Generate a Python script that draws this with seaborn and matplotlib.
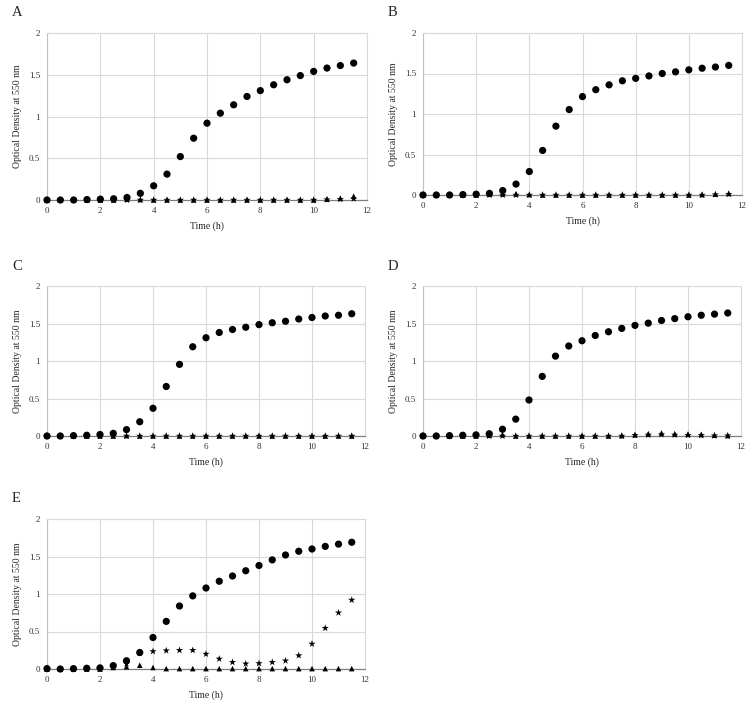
import numpy as np
import pandas as pd
import seaborn as sns
import matplotlib.pyplot as plt
from matplotlib.ticker import FuncFormatter

# sampling times (h)
time_h = [0, 0.5, 1, 1.5, 2, 2.5, 3, 3.5, 4, 4.5, 5, 5.5,
          6, 6.5, 7, 7.5, 8, 8.5, 9, 9.5, 10, 10.5, 11, 11.5]

# panel A
a_circle = [0.0, 0.0, 0.0, 0.005, 0.01, 0.015, 0.03, 0.08, 0.17, 0.31, 0.52, 0.74,
            0.92, 1.04, 1.14, 1.24, 1.31, 1.38, 1.44, 1.49, 1.54, 1.58, 1.61, 1.64]
a_triangle = [0, 0, 0, 0, 0, 0, 0.01, 0.005, 0, 0, 0, 0,
              0, 0, 0, 0, 0, 0, 0, 0, 0, 0.01, 0.02, 0.045]
a_star = [0, 0, 0, 0, 0, 0, 0, 0, 0, 0, 0, 0,
          0, 0, 0, 0, 0, 0, 0, 0, 0, 0.005, 0.01, 0.015]

# panel B
b_circle = [0.0, 0.0, 0.0, 0.005, 0.01, 0.02, 0.055, 0.135, 0.29, 0.55, 0.85, 1.055,
            1.215, 1.30, 1.36, 1.41, 1.44, 1.47, 1.50, 1.52, 1.545, 1.565, 1.58, 1.60]
b_triangle = [0, 0, 0, 0, 0, 0.01, 0.015, 0.015, 0.005, 0, 0, 0,
              0, 0, 0, 0, 0, 0, 0, 0, 0, 0.005, 0.01, 0.02]
b_star = [0, 0, 0, 0, 0, 0, 0, 0, 0, 0, 0, 0,
          0, 0, 0, 0, 0, 0, 0, 0, 0, 0, 0.005, 0.01]

# panel C
c_circle = [0.0, 0.0, 0.005, 0.01, 0.02, 0.035, 0.085, 0.19, 0.37, 0.66, 0.955, 1.19,
            1.31, 1.38, 1.42, 1.45, 1.485, 1.51, 1.53, 1.56, 1.58, 1.60, 1.61, 1.63]
c_triangle = [0, 0, 0, 0, 0, 0, 0.005, 0, 0, 0, 0, 0,
              0, 0, 0, 0, 0, 0, 0, 0, 0, 0, 0, 0]
c_star = [0, 0, 0, 0, 0, 0, 0, 0, 0, 0, 0, 0,
          0, 0, 0, 0, 0, 0, 0, 0, 0, 0, 0, 0]

# panel D
d_circle = [0.0, 0.0, 0.005, 0.01, 0.015, 0.03, 0.09, 0.225, 0.48, 0.795, 1.065, 1.20,
            1.27, 1.34, 1.39, 1.435, 1.475, 1.505, 1.54, 1.565, 1.59, 1.61, 1.625, 1.64]
d_triangle = [0, 0, 0, 0, 0, 0.01, 0.02, 0, 0, 0, 0, 0,
              0, 0, 0, 0.005, 0.015, 0.03, 0.04, 0.03, 0.025, 0.02, 0.01, 0.005]
d_star = [0, 0, 0, 0, 0, 0, 0, 0, 0, 0, 0, 0,
          0, 0, 0, 0, 0.01, 0.015, 0.02, 0.015, 0.01, 0.01, 0.005, 0.005]

# panel E
e_circle = [0.005, 0.0, 0.005, 0.01, 0.015, 0.045, 0.11, 0.22, 0.42, 0.635, 0.84, 0.975,
            1.08, 1.17, 1.24, 1.31, 1.38, 1.455, 1.52, 1.57, 1.60, 1.635, 1.665, 1.69]
e_triangle = [0, 0, 0, 0, 0, 0.02, 0.03, 0.05, 0.02, 0.005, 0.005, 0.005,
              0.005, 0.005, 0.005, 0.005, 0.005, 0.005, 0.005, 0.005, 0.005, 0.005, 0.005, 0.005]
e_star = [0, 0, 0, 0, 0, 0.03, 0.07, 0.21, 0.235, 0.245, 0.25, 0.25,
          0.20, 0.135, 0.09, 0.07, 0.075, 0.09, 0.11, 0.18, 0.335, 0.545, 0.75, 0.92]

panels = {
    'A': (a_circle, a_triangle, a_star),
    'B': (b_circle, b_triangle, b_star),
    'C': (c_circle, c_triangle, c_star),
    'D': (d_circle, d_triangle, d_star),
    'E': (e_circle, e_triangle, e_star),
}

# axes boxes in pixels: left, top, right, bottom
boxes = {
    'A': (47, 33, 367, 200),
    'B': (423, 33, 742, 195),
    'C': (47, 286, 365, 436),
    'D': (423, 286, 741, 436),
    'E': (47, 519, 365, 669),
}

W, H = 754, 706


def main():
    sns.set_style('whitegrid')
    plt.rcParams['font.family'] = ['Liberation Serif', 'DejaVu Serif']

    fig = plt.figure(figsize=(W / 100, H / 100), dpi=100)

    for name, (circ, tri, star) in panels.items():
        l, t, r, b = boxes[name]
        ax = fig.add_axes([l / W, (H - b) / H, (r - l) / W, (b - t) / H])

        df = pd.DataFrame({'Time': time_h, 'circle': circ, 'triangle': tri, 'star': star})

        sns.scatterplot(data=df, x='Time', y='star', marker='*', s=30,
                        color='black', edgecolor='none', ax=ax, zorder=3)
        sns.scatterplot(data=df, x='Time', y='triangle', marker='^', s=16,
                        color='black', edgecolor='none', ax=ax, zorder=4)
        sns.scatterplot(data=df, x='Time', y='circle', marker='o', s=27,
                        color='black', edgecolor='none', ax=ax, zorder=5)

        ax.set_xlim(0, 12)
        ax.set_ylim(0, 2)
        ax.set_xticks(range(0, 13, 2))
        ax.set_yticks([0, 0.5, 1, 1.5, 2])
        ax.yaxis.set_major_formatter(FuncFormatter(lambda v, p: f'{v:g}'))
        ax.tick_params(axis='both', length=0, labelsize=6.5, pad=5, colors='#333333')
        ax.grid(True, color='#d9d9d9', linewidth=0.8)

        for side in ['top', 'right']:
            ax.spines[side].set_color('#d9d9d9')
            ax.spines[side].set_linewidth(0.8)
        ax.spines['bottom'].set_color('#7f7f7f')
        ax.spines['left'].set_color('#bfbfbf')
        ax.spines['bottom'].set_linewidth(0.9)
        ax.spines['left'].set_linewidth(0.8)
        for s in ax.spines.values():
            s.set_zorder(1)

        ax.set_xlabel('Time (h)', fontsize=7, labelpad=5)
        ax.set_ylabel('Optical Density at 550 nm', fontsize=7, labelpad=5)
        for coll in ax.collections:
            coll.set_clip_on(False)

        fig.text((l - 35) / W, (H - t + 20) / H, name, fontsize=10.5,
                 ha='left', va='center')

    fig.savefig('out.png', dpi=100)


if __name__ == '__main__':
    main()
